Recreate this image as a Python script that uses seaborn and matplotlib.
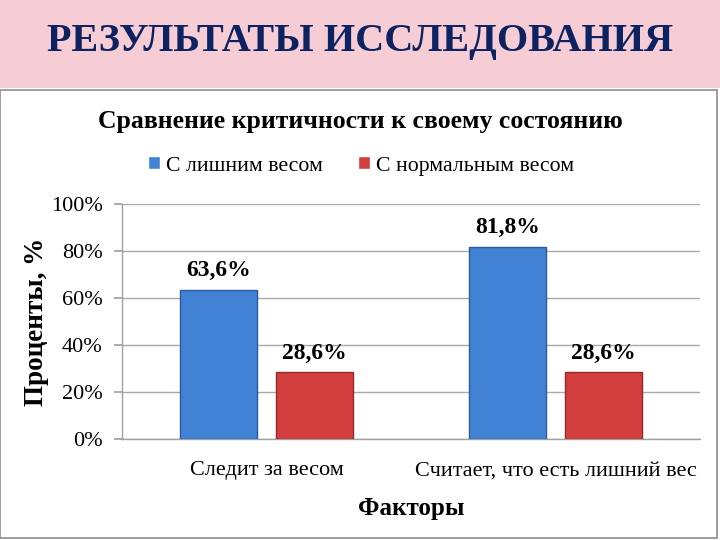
import matplotlib
matplotlib.use("Agg")
import matplotlib.pyplot as plt
import matplotlib.patches as mpatches
import seaborn as sns
import pandas as pd

categories = ["Следит за весом", "Считает, что есть лишний вес"]
series_names = ["С лишним весом", "С нормальным весом"]
overweight = [63.6, 81.8]
normal = [28.6, 28.6]
yticks = [0, 20, 40, 60, 80, 100]
ytick_labels = ["0%", "20%", "40%", "60%", "80%", "100%"]

df = pd.DataFrame({
    "cat": categories * 2,
    "series": [series_names[0]] * 2 + [series_names[1]] * 2,
    "val": overweight + normal,
})

sns.set_theme(style="white")
plt.rcParams["font.family"] = ["Liberation Serif", "DejaVu Serif"]
plt.rcParams.update({"text.color": "black", "axes.labelcolor": "black",
                     "xtick.color": "black", "ytick.color": "black"})

fig = plt.figure(figsize=(7.2, 5.4), dpi=100)
fig.patch.set_facecolor("white")

# banner and panel
fig.patches.append(mpatches.Rectangle((0, 1 - 88 / 540), 1, 88 / 540, transform=fig.transFigure,
                                      facecolor="#F6CDD4", edgecolor="none", zorder=-2))
fig.patches.append(mpatches.Rectangle((0.0, 2 / 540), 717 / 720, (538 - 90) / 540,
                                      transform=fig.transFigure, facecolor="white",
                                      edgecolor="#8C8C8C", linewidth=1.2, zorder=-1))
fig.text(0.5, 1 - 42 / 540, "РЕЗУЛЬТАТЫ ИССЛЕДОВАНИЯ", ha="center", va="center",
         fontsize=29, fontweight="bold", color="#0D2260")
fig.text(0.5, 1 - 122 / 540, "Сравнение критичности к своему состоянию", ha="center", va="center",
         fontsize=18.5, fontweight="bold", color="black")

ax = fig.add_axes([122 / 720, 1 - 439 / 540, 578 / 720, 235 / 540])
ax.set_zorder(2)
ax.patch.set_alpha(0)
palette = {series_names[0]: "#4282D4", series_names[1]: "#D33F3F"}
sns.barplot(data=df, x="cat", y="val", hue="series", order=categories, hue_order=series_names,
            palette=palette, width=0.667, gap=0.2, ax=ax, saturation=1, legend=True, zorder=3)

edge = {0: "#2A5A9E", 1: "#962828"}
for i, cont in enumerate(ax.containers):
    for bar in cont:
        bar.set_edgecolor(edge[i])
        bar.set_linewidth(1.0)
    vals = overweight if i == 0 else normal
    ax.bar_label(cont, labels=[f"{v:.1f}".replace(".", ",") + "%" for v in vals], padding=6,
                 fontsize=17, fontweight="bold", color="black")

ax.set_ylim(0, 100)
ax.set_xlim(-0.5, 1.5)
ax.set_yticks(yticks)
ax.set_yticklabels(ytick_labels, fontsize=16)
ax.tick_params(axis="y", length=6, color="#A0A0A0", pad=8, left=True)
ax.tick_params(axis="x", length=0, pad=16, labelsize=16)
ax.yaxis.grid(True, color="#A8A8A8", linewidth=1.0, zorder=0)
ax.set_axisbelow(True)
for s in ["top", "right"]:
    ax.spines[s].set_visible(False)
for s in ["left", "bottom"]:
    ax.spines[s].set_color("#A0A0A0")
    ax.spines[s].set_linewidth(1.0)

ax.set_xlabel("Факторы", fontsize=18, fontweight="bold", labelpad=12)
ax.set_ylabel("Проценты, %", fontsize=19.5, fontweight="bold", labelpad=1)

leg = ax.legend(loc="center", bbox_to_anchor=(361 / 720, 1 - 166 / 540), bbox_transform=fig.transFigure,
                ncol=2, frameon=False, fontsize=15.7, handlelength=0.55, handleheight=0.55,
                handletextpad=0.3, columnspacing=1.6)

fig.savefig("out.png", dpi=100)
